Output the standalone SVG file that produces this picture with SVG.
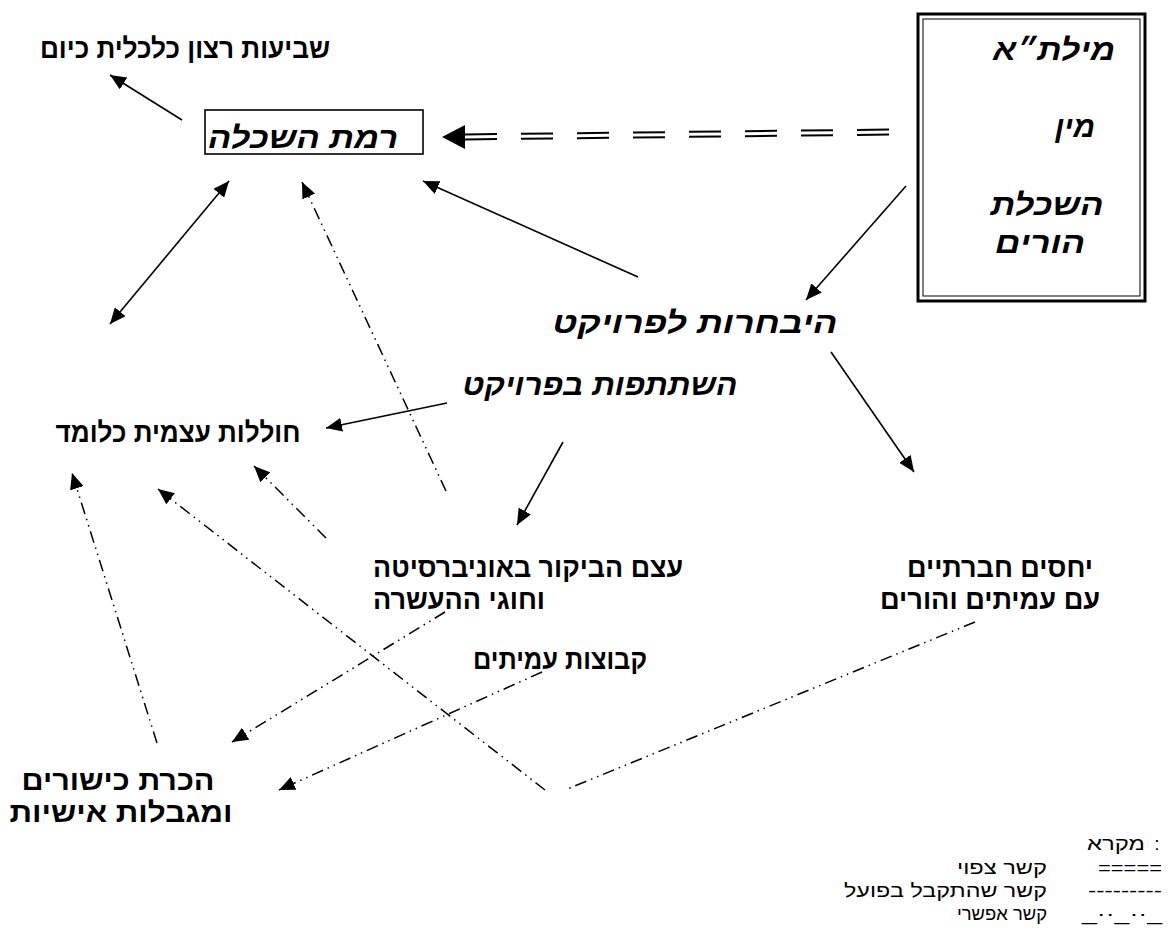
<svg xmlns="http://www.w3.org/2000/svg" width="1169" height="951" viewBox="0 0 1169 951">
<style>
.lbl{font-family:"Liberation Sans","DejaVu Sans",sans-serif;font-weight:bold;font-size:28px;fill:#000}
.scr{font-family:"Liberation Sans","DejaVu Sans",sans-serif;font-weight:bold;font-style:italic;font-size:30px;fill:#000}
.leg{font-family:"Liberation Sans","DejaVu Sans",sans-serif;font-size:19px;fill:#000}
.s{stroke:#000;stroke-width:1.6;fill:none}
.dd{stroke:#000;stroke-width:1.5;fill:none;stroke-dasharray:12 5 1.5 5 1.5 5}
.dbl{stroke:#000;stroke-width:2;fill:none;stroke-dasharray:32 24}
</style>
<defs>
<marker id="ah" markerUnits="userSpaceOnUse" markerWidth="18" markerHeight="14" refX="16" refY="7" orient="auto-start-reverse">
<path d="M0,0 L16,7 L0,14 z" fill="#000"/>
</marker>
</defs>
<rect width="1169" height="951" fill="#fff"/>

<g id="connectors">
<line class="s" x1="182" y1="120" x2="110" y2="75" marker-end="url(#ah)"/>
<line class="dbl" x1="889" y1="129.5" x2="465" y2="134.5"/>
<line class="dbl" x1="889" y1="134.5" x2="465" y2="139.5"/>
<polygon points="442,137 465,125 465,149" fill="#000"/>
<line class="s" x1="229" y1="181" x2="110" y2="324" marker-start="url(#ah)" marker-end="url(#ah)"/>
<line class="dd" x1="446" y1="491" x2="302" y2="182" marker-end="url(#ah)"/>
<line class="s" x1="638" y1="277" x2="423" y2="181" marker-end="url(#ah)"/>
<line class="s" x1="906" y1="186" x2="806" y2="300" marker-end="url(#ah)"/>
<line class="s" x1="831" y1="352" x2="914" y2="472" marker-end="url(#ah)"/>
<line class="s" x1="447" y1="403" x2="326" y2="428" marker-end="url(#ah)"/>
<line class="s" x1="563" y1="442" x2="517" y2="525" marker-end="url(#ah)"/>
<line class="dd" x1="326" y1="538" x2="254" y2="466" marker-end="url(#ah)"/>
<line class="dd" x1="975" y1="622" x2="565" y2="790"/>
<line class="dd" x1="545" y1="790" x2="158" y2="489" marker-end="url(#ah)"/>
<line class="dd" x1="445" y1="612" x2="232" y2="742" marker-end="url(#ah)"/>
<line class="dd" x1="542" y1="672" x2="279" y2="790" marker-end="url(#ah)"/>
<line class="dd" x1="157" y1="743" x2="72" y2="473" marker-end="url(#ah)"/>
</g>

<g id="satisfaction">
<text class="lbl" x="185" y="58" text-anchor="middle" textLength="290" lengthAdjust="spacingAndGlyphs">שביעות רצון כלכלית כיום</text>
</g>
<g id="education-level">
<rect x="205" y="110" width="218" height="44" fill="none" stroke="#000" stroke-width="1.6"/>
<text class="scr" x="303" y="148" text-anchor="middle" font-size="28" textLength="190" lengthAdjust="spacingAndGlyphs">רמת השכלה</text>
</g>
<g id="demographics">
<rect x="918" y="14" width="227" height="287" fill="none" stroke="#000" stroke-width="3"/>
<rect x="923" y="19" width="217" height="277" fill="none" stroke="#000" stroke-width="1"/>
<text class="scr" x="1054" y="60" text-anchor="middle" textLength="122" lengthAdjust="spacingAndGlyphs">מילת״א</text>
<text class="scr" x="1075" y="137" text-anchor="middle">מין</text>
<text class="scr" x="1047" y="215" text-anchor="middle" textLength="113" lengthAdjust="spacingAndGlyphs">השכלת</text>
<text class="scr" x="1040" y="253" text-anchor="middle" textLength="90" lengthAdjust="spacingAndGlyphs">הורים</text>
</g>
<g id="selection">
<text class="scr" x="695" y="333" text-anchor="middle" font-size="34" textLength="285" lengthAdjust="spacingAndGlyphs">היבחרות לפרויקט</text>
</g>
<g id="participation">
<text class="scr" x="600" y="395" text-anchor="middle" font-size="34" textLength="275" lengthAdjust="spacingAndGlyphs">השתתפות בפרויקט</text>
</g>
<g id="self-efficacy">
<text class="lbl" x="178" y="442" text-anchor="middle" textLength="245" lengthAdjust="spacingAndGlyphs">חוללות עצמית כלומד</text>
</g>
<g id="university-visit">
<text class="lbl" x="373" y="577" text-anchor="start" textLength="310" lengthAdjust="spacingAndGlyphs">עצם הביקור באוניברסיטה</text>
<text class="lbl" x="373" y="609" text-anchor="start" textLength="172" lengthAdjust="spacingAndGlyphs">וחוגי ההעשרה</text>
</g>
<g id="peer-groups">
<text class="lbl" x="560" y="669" text-anchor="middle" textLength="174" lengthAdjust="spacingAndGlyphs">קבוצות עמיתים</text>
</g>
<g id="social-relations">
<text class="lbl" x="1093" y="577" text-anchor="end" textLength="186" lengthAdjust="spacingAndGlyphs">יחסים חברתיים</text>
<text class="lbl" x="1100" y="609" text-anchor="end" textLength="220" lengthAdjust="spacingAndGlyphs">עם עמיתים והורים</text>
</g>
<g id="skills">
<text class="lbl" x="118" y="790" text-anchor="middle" textLength="193" lengthAdjust="spacingAndGlyphs">הכרת כישורים</text>
<text class="lbl" x="121" y="822" text-anchor="middle" textLength="223" lengthAdjust="spacingAndGlyphs">ומגבלות אישיות</text>
</g>
<g id="legend">
<text class="leg" x="1145" y="850" text-anchor="end" textLength="58" lengthAdjust="spacingAndGlyphs">מקרא</text>
<text class="leg" x="1157" y="850" text-anchor="middle">:</text>
<text class="leg" x="1162" y="874" text-anchor="end" textLength="64" lengthAdjust="spacingAndGlyphs">=====</text>
<text class="leg" x="1047" y="874" text-anchor="end" textLength="90" lengthAdjust="spacingAndGlyphs">קשר צפוי</text>
<text class="leg" x="1162" y="897" text-anchor="end" textLength="74" lengthAdjust="spacingAndGlyphs">---------</text>
<text class="leg" x="1047" y="897" text-anchor="end" textLength="203" lengthAdjust="spacingAndGlyphs">קשר שהתקבל בפועל</text>
<text class="leg" x="1162" y="920" text-anchor="end" textLength="80" lengthAdjust="spacingAndGlyphs">_··_··_</text>
<text class="leg" x="1047" y="920" text-anchor="end" textLength="90" lengthAdjust="spacingAndGlyphs">קשר אפשרי</text>
</g>
</svg>
